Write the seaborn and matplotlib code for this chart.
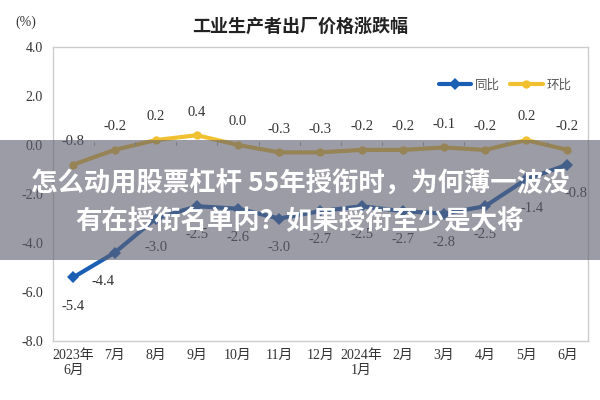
import matplotlib
matplotlib.use("Agg")
import matplotlib.pyplot as plt
import seaborn as sns
import pandas as pd
from matplotlib.patches import Rectangle

months = ["2023年\n6月", "7月", "8月", "9月", "10月", "11月", "12月", "2024年\n1月",
          "2月", "3月", "4月", "5月", "6月"]
yoy = [-5.4, -4.4, -3.0, -2.5, -2.6, -3.0, -2.7, -2.5, -2.7, -2.8, -2.5, -1.4, -0.8]
mom = [-0.8, -0.2, 0.2, 0.4, 0.0, -0.3, -0.3, -0.2, -0.2, -0.1, -0.2, 0.2, -0.2]
yticks = [-8.0, -6.0, -4.0, -2.0, 0.0, 2.0, 4.0]

sns.set_theme(style="white")
plt.rcParams['font.family'] = ['Noto Sans CJK SC', 'DejaVu Sans']
serif = ['Liberation Serif', 'Noto Sans CJK SC']

df = pd.DataFrame({"idx": list(range(len(months))) * 2,
                   "value": yoy + mom,
                   "series": ["同比"] * len(yoy) + ["环比"] * len(mom)})

fig = plt.figure(figsize=(6, 4), dpi=100)
ax = fig.add_axes([0.088, 0.1475, 0.892, 0.735])

blue = "#1a5fb4"
yellow = "#f0c030"
sns.lineplot(data=df, x="idx", y="value", hue="series", style="series",
             palette={"同比": blue, "环比": yellow},
             markers={"同比": "D", "环比": "o"}, dashes=False,
             linewidth=3.0, markersize=6, markeredgewidth=0, ax=ax)

ax.set_xlim(-0.5, len(months) - 0.5)
ax.set_ylim(-8, 4)
ax.set_yticks(yticks)
ax.set_yticklabels([f"{v:.1f}" for v in yticks], family=serif, fontsize=10, color="#333333")
ax.set_xticks(range(len(months)))
ax.set_xticklabels(months, family=serif, fontsize=10, color="#333333", linespacing=1.2)
ax.set_xlabel("")
ax.set_ylabel("")
ax.tick_params(axis="both", length=3, color="#999999", pad=4)
ax.tick_params(axis="x", length=0, pad=6)
for s in ax.spines.values():
    s.set_color("#cccccc")
    s.set_linewidth(1.0)

# minor ticks along zero line between categories
for i in range(len(months) + 1):
    ax.plot([i - 0.5, i - 0.5], [0, 0.12], color="#aaaaaa", lw=0.8)

for i, v in enumerate(mom):
    ax.annotate(f"{v:.1f}", (i, v), xytext=(0, 12), textcoords="offset points",
                ha="center", va="bottom", family=serif, fontsize=10.5, color="#333333")
yoy_dx = [0, -8, 0, 0, 0, 0, 0, 0, 0, 0, 0, 4, 6]
for i, v in enumerate(yoy):
    ax.annotate(f"{v:.1f}", (i, v), xytext=(yoy_dx[i], -16), textcoords="offset points",
                ha="center", va="top", family=serif, fontsize=10.5, color="#333333")

leg = ax.legend(loc="upper right", bbox_to_anchor=(0.99, 0.93), ncol=2, frameon=False,
                fontsize=9, handlelength=2.6, columnspacing=0.8, handletextpad=0.3)
for t in leg.get_texts():
    t.set_color("#555555")

fig.text(0.5, 0.935, "工业生产者出厂价格涨跌幅", ha="center", va="center",
         fontsize=13, fontweight="bold", color="#222222")
fig.text(0.025, 0.945, "(%)", ha="left", va="center", family=serif, fontsize=10, color="#333333")

# overlay banner
fig.patches.append(Rectangle((0, 0.35), 1, 0.30, transform=fig.transFigure,
                             facecolor="#5f6070", alpha=0.62, edgecolor="none", zorder=10))
fig.text(0.5, 0.54, "怎么动用股票杠杆 55年授衔时，为何薄一波没", ha="center", va="center",
         fontsize=19, fontweight="bold", color="white", zorder=11)
fig.text(0.5, 0.445, "有在授衔名单内？如果授衔至少是大将", ha="center", va="center",
         fontsize=19, fontweight="bold", color="white", zorder=11)

fig.savefig("out.png", dpi=100)
